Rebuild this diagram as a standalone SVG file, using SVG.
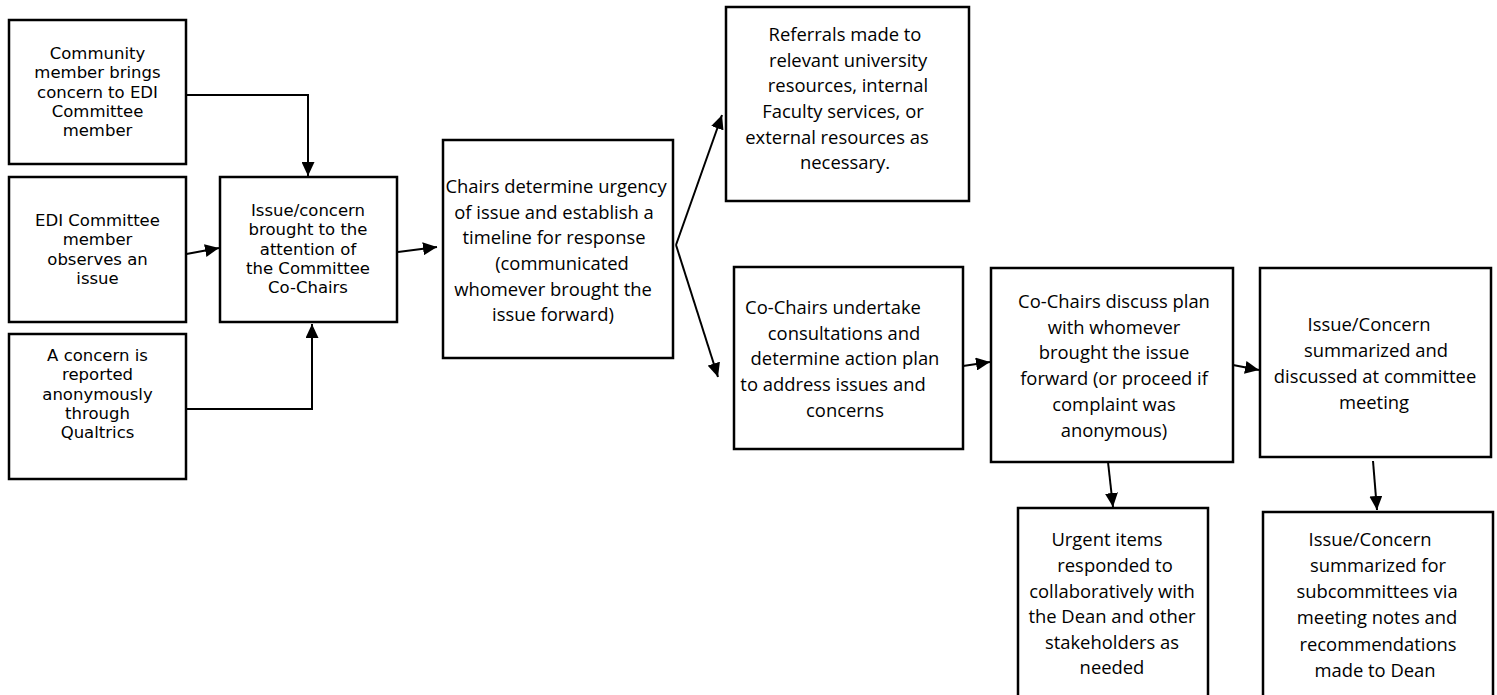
<svg xmlns="http://www.w3.org/2000/svg" width="1497" height="695" viewBox="0 0 1497 695">
<style>
.box{fill:#fff;stroke:#000;stroke-width:2.5}
.t{font-family:"Open Sans","Noto Sans","Liberation Sans",sans-serif;font-size:18.4px;fill:#000;text-anchor:middle}
.tt{font-family:"DejaVu Sans","Liberation Sans",sans-serif;font-size:16.5px;fill:#000;text-anchor:middle}
.c{fill:none;stroke:#000;stroke-width:2;marker-end:url(#ah)}
</style>
<defs>
<marker id="ah" markerUnits="userSpaceOnUse" markerWidth="15" markerHeight="13" refX="14" refY="6.5" orient="auto" viewBox="0 0 15 13">
<path d="M0,0 L14,6.5 L0,13 z" fill="#000"/>
</marker>
</defs>
<rect width="1497" height="695" fill="#fff"/>
<g id="connectors">
<polyline class="c" points="186,95 308,95 308,176"/>
<line class="c" x1="181" y1="255" x2="219" y2="248"/>
<polyline class="c" points="180,409 312,409 312,324"/>
<line class="c" x1="398" y1="252" x2="437" y2="247"/>
<line class="c" x1="676" y1="245" x2="722" y2="115"/>
<line class="c" x1="676" y1="245" x2="718" y2="377"/>
<line class="c" x1="963" y1="366" x2="990" y2="362"/>
<line class="c" x1="1233" y1="365" x2="1259" y2="370"/>
<line class="c" x1="1108" y1="462" x2="1113" y2="507"/>
<line class="c" x1="1373" y1="461" x2="1377" y2="510"/>
</g>
<g id="node-community">
<rect class="box" x="9" y="20" width="177" height="144"/>
<text class="tt"><tspan x="97.5" y="59">Community</tspan><tspan x="97.5" y="78.3">member brings</tspan><tspan x="97.5" y="97.6">concern to EDI</tspan><tspan x="97.5" y="116.9">Committee</tspan><tspan x="97.5" y="136.2">member</tspan></text>
</g>
<g id="node-observes">
<rect class="box" x="9" y="177" width="177" height="145"/>
<text class="tt"><tspan x="97.5" y="226">EDI Committee</tspan><tspan x="97.5" y="245.3">member</tspan><tspan x="97.5" y="264.6">observes an</tspan><tspan x="97.5" y="283.9">issue</tspan></text>
</g>
<g id="node-anonymous">
<rect class="box" x="9" y="334" width="177" height="145"/>
<text class="tt"><tspan x="97.5" y="361">A concern is</tspan><tspan x="97.5" y="380.3">reported</tspan><tspan x="97.5" y="399.6">anonymously</tspan><tspan x="97.5" y="418.9">through</tspan><tspan x="97.5" y="438.2">Qualtrics</tspan></text>
</g>
<g id="node-cochairs">
<rect class="box" x="220" y="177" width="177" height="145"/>
<text class="tt"><tspan x="308" y="216">Issue/concern</tspan><tspan x="308" y="235.3">brought to the</tspan><tspan x="308" y="254.6">attention of</tspan><tspan x="308" y="273.9">the Committee</tspan><tspan x="308" y="293.2">Co-Chairs</tspan></text>
</g>
<g id="node-urgency">
<rect class="box" x="443" y="140" width="230" height="218"/>
<text class="t"><tspan x="556" y="193">Chairs determine urgency</tspan><tspan x="554" y="218.5">of issue and establish a</tspan><tspan x="554" y="244">timeline for response</tspan><tspan x="562" y="269.5">(communicated</tspan><tspan x="553" y="295.5">whomever brought the</tspan><tspan x="553" y="321">issue forward)</tspan></text>
</g>
<g id="node-referrals">
<rect class="box" x="726" y="7" width="243" height="194"/>
<text class="t"><tspan x="845" y="41">Referrals made to</tspan><tspan x="848" y="66.5">relevant university</tspan><tspan x="848" y="92">resources, internal</tspan><tspan x="843" y="118">Faculty services, or</tspan><tspan x="837" y="143.5">external resources as</tspan><tspan x="845" y="169">necessary.</tspan></text>
</g>
<g id="node-consult">
<rect class="box" x="734" y="267" width="229" height="182"/>
<text class="t"><tspan x="833" y="314">Co-Chairs undertake</tspan><tspan x="844" y="339.5">consultations and</tspan><tspan x="845" y="365">determine action plan</tspan><tspan x="833" y="391">to address issues and</tspan><tspan x="845" y="417">concerns</tspan></text>
</g>
<g id="node-discuss">
<rect class="box" x="991" y="268" width="242" height="194"/>
<text class="t"><tspan x="1114" y="308">Co-Chairs discuss plan</tspan><tspan x="1114" y="333.5">with whomever</tspan><tspan x="1114" y="359">brought the issue</tspan><tspan x="1114" y="385">forward (or proceed if</tspan><tspan x="1114" y="411">complaint was</tspan><tspan x="1114" y="437">anonymous)</tspan></text>
</g>
<g id="node-meeting">
<rect class="box" x="1260" y="268" width="231" height="189"/>
<text class="t"><tspan x="1369" y="331">Issue/Concern</tspan><tspan x="1376" y="356.5">summarized and</tspan><tspan x="1375" y="382.5">discussed at committee</tspan><tspan x="1374" y="408.5">meeting</tspan></text>
</g>
<g id="node-urgent">
<rect class="box" x="1018" y="508" width="190" height="200"/>
<text class="t"><tspan x="1107" y="546">Urgent items</tspan><tspan x="1115" y="571.5">responded to</tspan><tspan x="1112" y="597.5">collaboratively with</tspan><tspan x="1112" y="623">the Dean and other</tspan><tspan x="1112" y="648.5">stakeholders as</tspan><tspan x="1112" y="674">needed</tspan></text>
</g>
<g id="node-subcommittees">
<rect class="box" x="1263" y="512" width="230" height="200"/>
<text class="t"><tspan x="1370" y="546">Issue/Concern</tspan><tspan x="1378" y="572">summarized for</tspan><tspan x="1377" y="598">subcommittees via</tspan><tspan x="1377" y="624">meeting notes and</tspan><tspan x="1378" y="650.5">recommendations</tspan><tspan x="1375" y="677">made to Dean</tspan></text>
</g>
</svg>
